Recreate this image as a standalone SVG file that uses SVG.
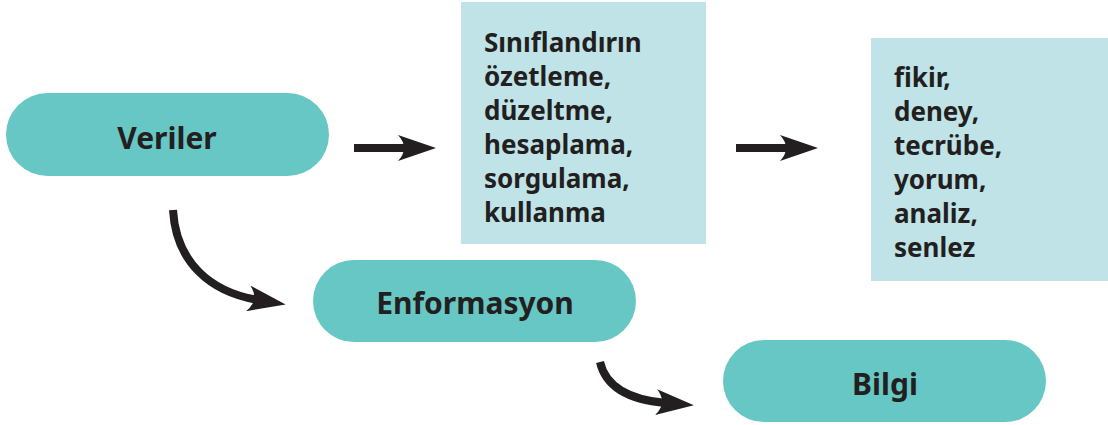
<svg xmlns="http://www.w3.org/2000/svg" width="1108" height="425" viewBox="0 0 1108 425">
<style>
.pill{fill:#67c7c4}
.box{fill:#bfe3e7}
.t{font-family:"Noto Sans","Liberation Sans",sans-serif;font-weight:700;fill:#231f20}
.big{font-size:30px}
.lst{font-size:26px}
.c{fill:none;stroke:#231f20;stroke-width:8}
</style>
<defs>
<marker id="ah" markerUnits="userSpaceOnUse" viewBox="0 0 38 26" refX="10" refY="13" markerWidth="38" markerHeight="26" orient="auto">
<path d="M0,0 L38,13 L0,26 Q12,13 0,0 Z" fill="#231f20"/>
</marker>
</defs>
<g id="veriler">
<rect class="pill" x="6" y="93" width="323" height="83" rx="41.5"/>
<text class="t big" x="167" y="149" text-anchor="middle">Veriler</text>
</g>
<g id="islemler">
<rect class="box" x="461" y="2" width="245" height="242"/>
<text class="t lst" x="484" y="52">Sınıflandırın</text>
<text class="t lst" x="484" y="86">özetleme,</text>
<text class="t lst" x="484" y="120">düzeltme,</text>
<text class="t lst" x="484" y="154">hesaplama,</text>
<text class="t lst" x="484" y="188">sorgulama,</text>
<text class="t lst" x="484" y="222">kullanma</text>
</g>
<g id="bilgi-kaynaklari">
<rect class="box" x="871" y="38" width="237" height="243"/>
<text class="t lst" x="894" y="87">fikir,</text>
<text class="t lst" x="894" y="121">deney,</text>
<text class="t lst" x="894" y="155">tecrübe,</text>
<text class="t lst" x="894" y="189">yorum,</text>
<text class="t lst" x="894" y="223">analiz,</text>
<text class="t lst" x="894" y="257">senlez</text>
</g>
<g id="enformasyon">
<rect class="pill" x="313" y="260" width="323" height="82" rx="41"/>
<text class="t big" x="475" y="314" text-anchor="middle">Enformasyon</text>
</g>
<g id="bilgi">
<rect class="pill" x="723" y="340" width="323" height="82" rx="41"/>
<text class="t big" x="885" y="395" text-anchor="middle">Bilgi</text>
</g>
<g id="connectors">
<path class="c" d="M354,148 L408,148" marker-end="url(#ah)"/>
<path class="c" d="M736,148 L790,148" marker-end="url(#ah)"/>
<path class="c" d="M173,210 C176,262 210,292 258,300" marker-end="url(#ah)"/>
<path class="c" d="M600,362 C606,388 630,400 666,403" marker-end="url(#ah)"/>
</g>
</svg>
